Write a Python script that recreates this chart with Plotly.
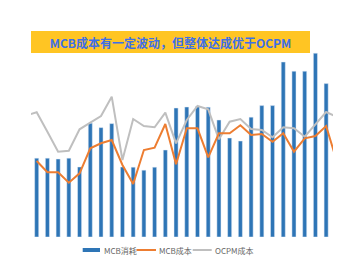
import plotly.graph_objects as go

# categories (periods); -1 and 28 are partially visible edge points of the lines
bar_x = list(range(28))
line_x = list(range(-1, 29))

mcb_consume = [39.4, 39.4, 39.0, 39.4, 35.0, 56.9, 54.7, 56.7, 35.0, 34.9, 33.4, 34.9, 43.5, 64.5,
               65.0, 65.2, 64.9, 58.5, 49.5, 48.0, 59.9, 65.7, 65.7, 87.5, 82.9, 82.9, 91.9, 76.7]

mcb_cost = [None, 7.60, 6.47, 6.47, 5.43, 6.37, 8.87, 9.37, 9.70, 7.20, 5.30, 8.70, 8.93, 11.30, 7.27,
            10.87, 10.87, 7.97, 10.37, 10.37, 11.17, 10.20, 10.30, 9.53, 10.37, 8.53, 9.87, 10.10, 11.10, 7.54]

ocpm_cost = [12.15, 12.47, 10.53, 8.53, 8.63, 10.77, 11.43, 12.10, 14.03, 7.70, 11.80, 11.10, 10.97, 12.43, 9.37,
             11.70, 13.10, 12.77, 9.77, 11.53, 11.80, 10.80, 10.70, 9.97, 10.97, 10.87, 10.03, 11.30, 12.50, 12.02]

title_text = "MCB成本有一定波动，但整体达成优于OCPM"
legend_names = ["MCB消耗", "MCB成本", "OCPM成本"]

BLUE = "#2E75B6"
ORANGE = "#ED7D31"
GRAY = "#BFBFBF"

fig = go.Figure()
fig.add_trace(go.Bar(x=bar_x, y=mcb_consume, name=legend_names[0], marker_color=BLUE,
                     width=0.38, showlegend=False))
fig.add_trace(go.Scatter(x=line_x, y=ocpm_cost, name=legend_names[2], mode="lines",
                         line=dict(color=GRAY, width=2), yaxis="y2", showlegend=False,
                         connectgaps=False))
fig.add_trace(go.Scatter(x=line_x, y=mcb_cost, name=legend_names[1], mode="lines",
                         line=dict(color=ORANGE, width=2), yaxis="y2", showlegend=False))

L, R, T, B = 31, 12, 30, 25
W, H = 345, 262
pw, ph = W - L - R, H - T - B

def px_x(p):
    return (p - L) / pw

def px_y(p):
    return (H - B - p) / ph

fig.update_layout(
    width=W, height=H,
    margin=dict(l=L, r=R, t=T, b=B, pad=0),
    paper_bgcolor="white", plot_bgcolor="white",
    xaxis=dict(range=[-0.53, 27.64], visible=False, fixedrange=True),
    yaxis=dict(range=[0, 103.5], visible=False),
    yaxis2=dict(range=[0, 20.7], visible=False, overlaying="y"),
    bargap=0.6,
    font=dict(family="Noto Sans CJK SC, Noto Sans, sans-serif"),
)

# title box
fig.add_annotation(
    text="<b>" + title_text + "</b>", xref="paper", yref="paper",
    x=px_x(30.7), y=px_y(31), xanchor="left", yanchor="top",
    width=279, height=22, bgcolor="#FFC523", borderpad=0, borderwidth=0,
    showarrow=False, align="center", valign="middle",
    font=dict(size=12, color="#3E6FE8", family="Noto Sans CJK SC, sans-serif"),
)

# legend
ly = px_y(250)
fig.add_shape(type="rect", xref="paper", yref="paper",
              x0=px_x(82.7), x1=px_x(100), y0=ly - 2 / ph, y1=ly + 2 / ph,
              fillcolor=BLUE, line=dict(width=0))
fig.add_shape(type="line", xref="paper", yref="paper",
              x0=px_x(136.5), x1=px_x(156), y0=ly, y1=ly, line=dict(color=ORANGE, width=2))
fig.add_shape(type="line", xref="paper", yref="paper",
              x0=px_x(192.7), x1=px_x(211.7), y0=ly, y1=ly, line=dict(color=GRAY, width=2))
for name, xs in zip(legend_names, [101.5, 157.3, 213.3]):
    fig.add_annotation(text=name, xref="paper", yref="paper", x=px_x(xs), y=ly,
                       xanchor="left", yanchor="middle", showarrow=False,
                       font=dict(size=8, color="#666666"))

fig.write_html("out.html")
